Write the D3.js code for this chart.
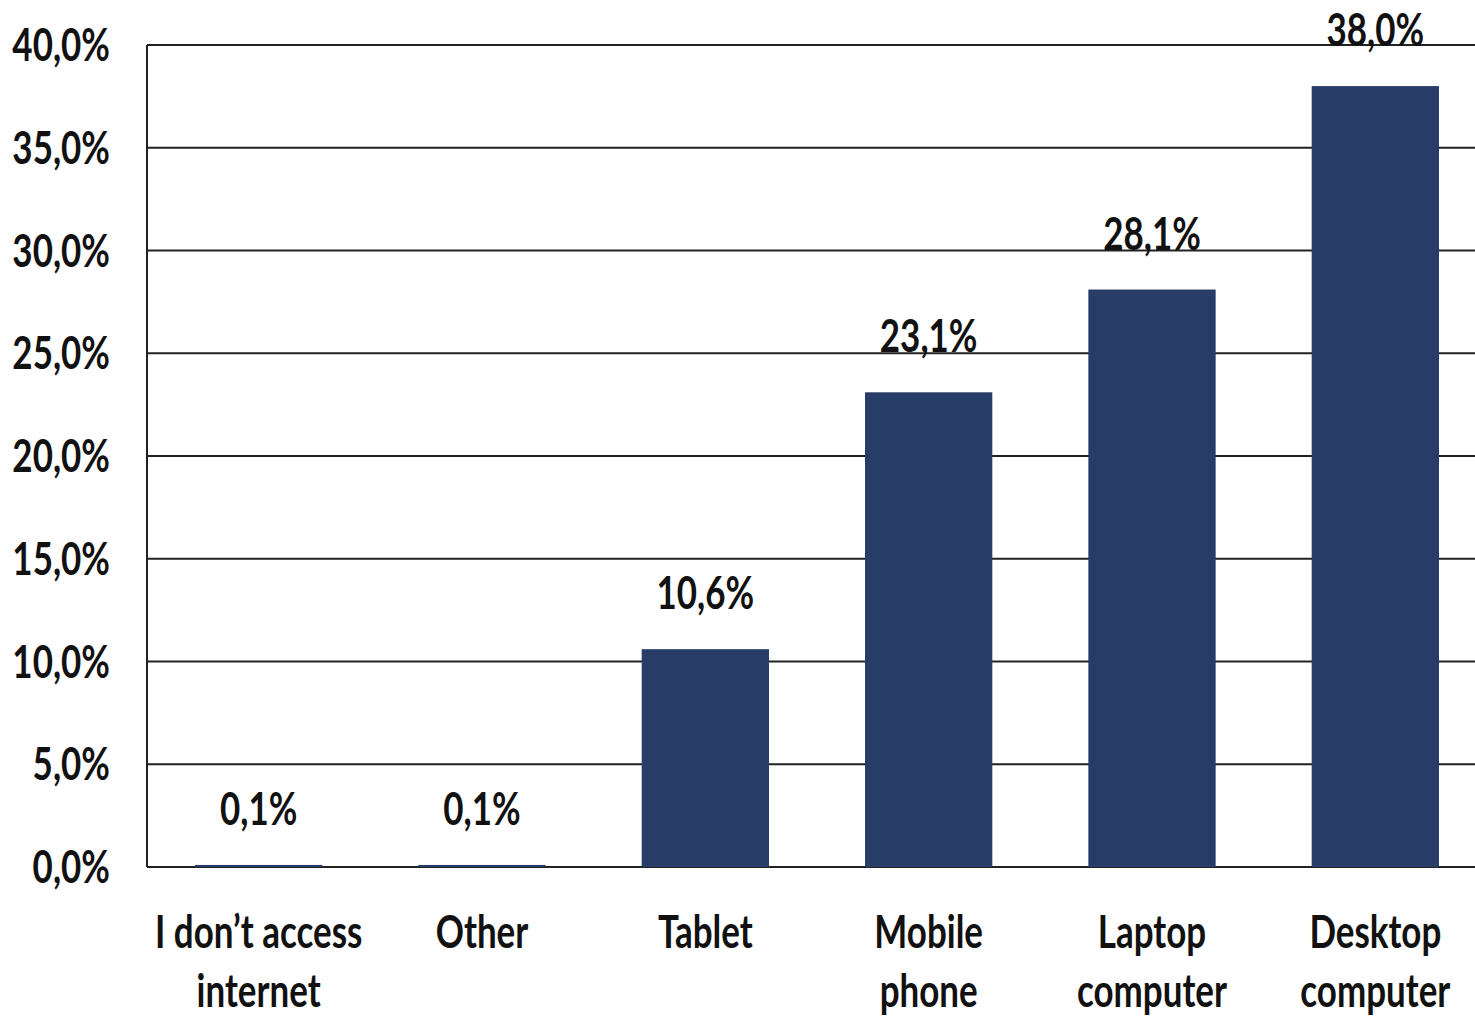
<!DOCTYPE html>
<html>
<head>
<meta charset="utf-8">
<script src="https://cdn.jsdelivr.net/npm/d3@7"></script>
<style>
  html, body { margin: 0; padding: 0; background: #fff; overflow: hidden; }
  svg { display: block; }
  text { font-family: Lato, "Open Sans", sans-serif; font-weight: 700; fill: #111; }
</style>
</head>
<body>
<svg id="chart" width="1475" height="1016"></svg>
<script>
// Device used to access the internet (share of respondents)
const categories = [
  ["I don\u2019t access", "internet"],
  ["Other"],
  ["Tablet"],
  ["Mobile", "phone"],
  ["Laptop", "computer"],
  ["Desktop", "computer"]
];
const values = [0.1, 0.1, 10.6, 23.1, 28.1, 38.0];
const valueLabels = ["0,1%", "0,1%", "10,6%", "23,1%", "28,1%", "38,0%"];
const yTicks = [0, 5, 10, 15, 20, 25, 30, 35, 40];
const yTickLabels = ["0,0%", "5,0%", "10,0%", "15,0%", "20,0%", "25,0%", "30,0%", "35,0%", "40,0%"];

(function () {
  const svg = d3.select("#chart");
  const plotLeft = 147, plotRight = 1487, plotTop = 45, plotBottom = 867;
  const barColor = "#273d68";
  const gridColor = "#222";
  const fontSize = 46;
  const squeeze = 0.76;   // horizontal compression of the narrow typeface

  const x = d3.scaleBand()
    .domain(d3.range(values.length))
    .range([plotLeft, plotRight])
    .paddingInner(0.43)
    .paddingOuter(0.215);

  const y = d3.scaleLinear().domain([0, 40]).range([plotBottom, plotTop]);

  // horizontal gridlines
  svg.append("g")
    .selectAll("line")
    .data(yTicks)
    .join("line")
    .attr("x1", plotLeft).attr("x2", plotRight)
    .attr("y1", d => y(d)).attr("y2", d => y(d))
    .attr("stroke", gridColor)
    .attr("stroke-width", 2);

  // value axis line
  svg.append("line")
    .attr("x1", plotLeft).attr("x2", plotLeft)
    .attr("y1", y(40)).attr("y2", y(0))
    .attr("stroke", gridColor)
    .attr("stroke-width", 2);

  // text drawn at (px, py) with horizontal squeeze
  function label(g, px, py, str, anchor) {
    g.append("text")
      .attr("transform", `translate(${px},${py}) scale(${squeeze},1)`)
      .attr("text-anchor", anchor)
      .attr("font-size", fontSize)
      .text(str);
  }

  // y tick labels
  const yAxisG = svg.append("g");
  yTicks.forEach((t, i) => label(yAxisG, 110, y(t) + 16, yTickLabels[i], "end"));

  // bars
  svg.append("g")
    .selectAll("rect")
    .data(values)
    .join("rect")
    .attr("x", (d, i) => x(i))
    .attr("width", x.bandwidth())
    .attr("y", d => y(d))
    .attr("height", d => y(0) - y(d))
    .attr("fill", barColor);

  // value labels
  const valG = svg.append("g");
  values.forEach((v, i) => label(valG, x(i) + x.bandwidth() / 2, y(v) - 40, valueLabels[i], "middle"));

  // category labels
  const catG = svg.append("g");
  categories.forEach((lines, i) => {
    lines.forEach((ln, j) => label(catG, x(i) + x.bandwidth() / 2, 948 + j * 59, ln, "middle"));
  });
})();
</script>
</body>
</html>
